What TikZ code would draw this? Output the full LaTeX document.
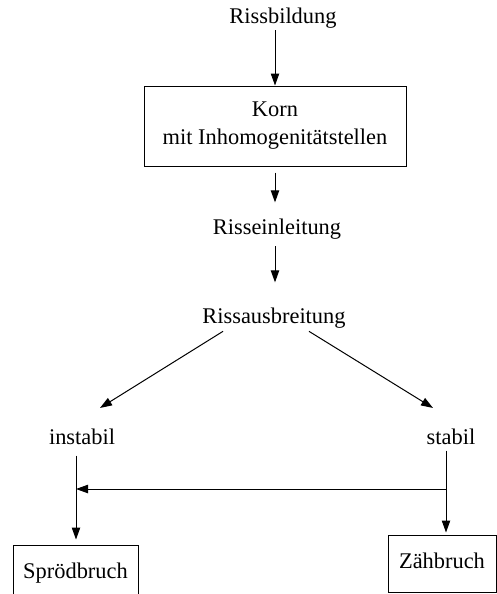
\documentclass[tikz,border=0pt]{standalone}
\usepackage{fontspec}
\setmainfont{Liberation Serif}
\usetikzlibrary{arrows.meta, positioning, calc}

\begin{document}
\begin{tikzpicture}[
    x=0.5pt, y=-0.5pt,
    >={Triangle[length=6pt, width=4.2pt]},
    line width=0.5pt,
    font=\fontsize{11.2}{14}\selectfont,
    lbl/.style={inner sep=0pt, anchor=base},
    box/.style={draw, rectangle, align=center, inner sep=0pt}
]
\clip (0,0) rectangle (497,594);

% start label
\node[lbl] (bildung) at (283,24) {Rissbildung};

% grain box
\node[box, minimum width=131pt, minimum height=40pt] (korn) at (275,126) {Korn\\mit Inhomogenitätstellen};

% crack stages
\node[lbl] (einleitung) at (277,234) {Risseinleitung};
\node[lbl] (ausbreitung) at (274,323) {Rissausbreitung};

% branches
\node[lbl] (instabil) at (82,444) {instabil};
\node[lbl] (stabil) at (451,444) {stabil};

% fracture boxes
\node[box, minimum width=62.5pt, minimum height=28pt] (sprod) at (75.5,573) {Sprödbruch};
\node[box, minimum width=54pt, minimum height=28.5pt, text depth=3pt] (zah) at (442,563.5) {Zähbruch};

% junctions
\coordinate (links) at (76,489);
\coordinate (rechts) at (446,489);

% arrows
\draw[->, shorten <=0.5pt] (korn.north |- bildung.south) -- (korn.north);
\draw[->, shorten <=3pt, shorten >=7.8pt] (korn.south) -- (korn.south |- einleitung.north);
\draw[->, shorten <=3.5pt, shorten >=12.3pt] (korn.south |- einleitung.south) -- (korn.south |- ausbreitung.north);
\draw[->] ($(ausbreitung.south)+(-51,3)$) -- ($(instabil.north)+(18,-20)$);
\draw[->] ($(ausbreitung.south)+(35,3)$) -- ($(stabil.north)+(-18,-20)$);
\draw[->, shorten <=3pt, shorten >=1pt] (rechts |- stabil.south) -- (rechts |- zah.north);
\draw[->] (rechts) -- (links);
\draw[->, shorten <=5.5pt, shorten >=2.5pt] (links |- instabil.south) -- (links |- sprod.north);

\end{tikzpicture}
\end{document}
